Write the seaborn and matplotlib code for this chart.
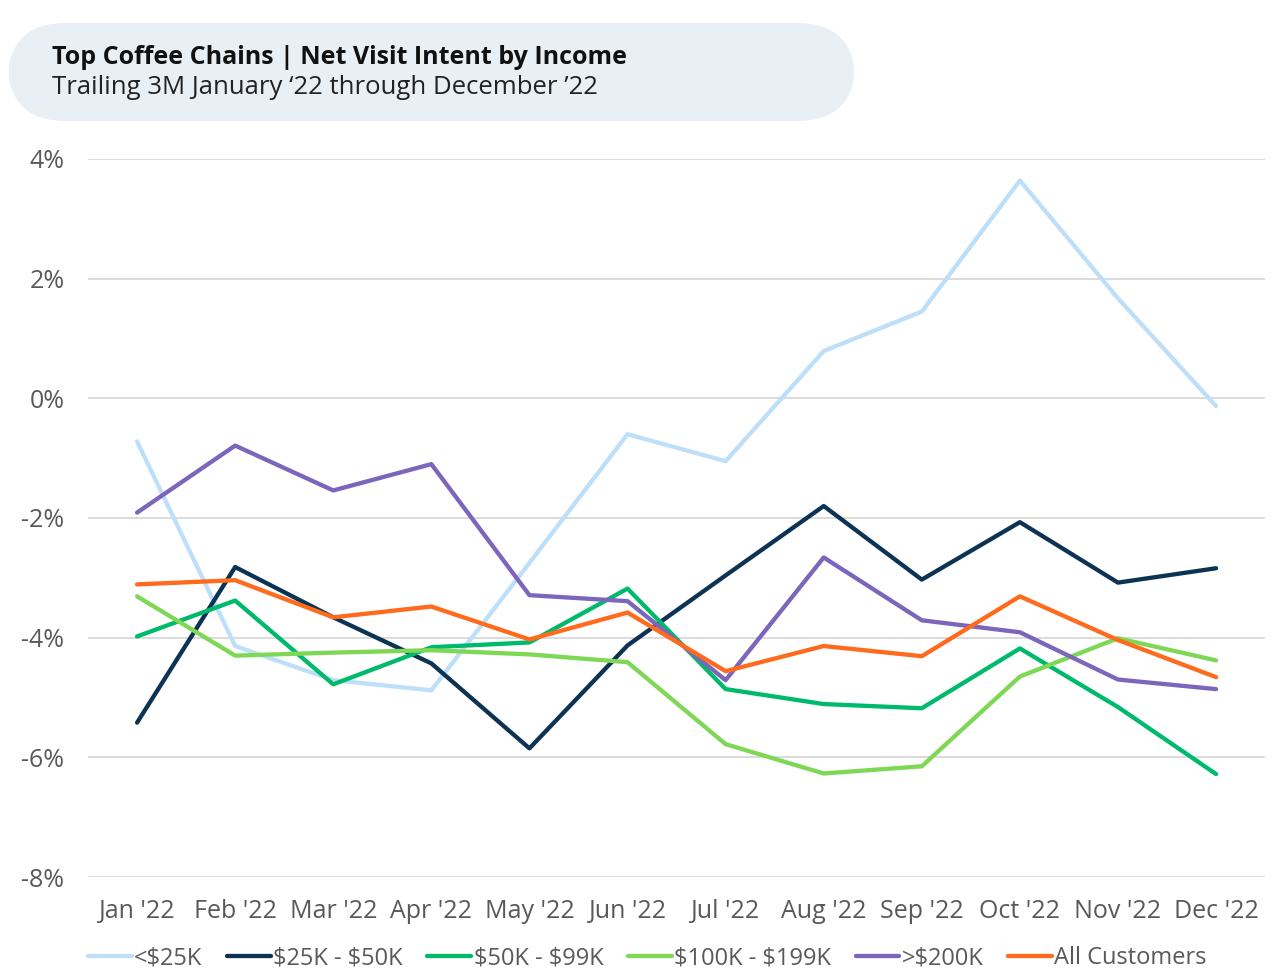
import numpy as np
import pandas as pd
import seaborn as sns
import matplotlib.pyplot as plt
from matplotlib.patches import FancyBboxPatch

# data (net visit intent, %)
months = ["Jan '22", "Feb '22", "Mar '22", "Apr '22", "May '22", "Jun '22",
          "Jul '22", "Aug '22", "Sep '22", "Oct '22", "Nov '22", "Dec '22"]

under_25k = [-0.72, -4.14, -4.71, -4.88, -2.75, -0.60, -1.05, 0.79, 1.45, 3.64, 1.67, -0.13]
k25_50 = [-5.42, -2.82, -3.66, -4.43, -5.85, -4.13, -2.96, -1.80, -3.03, -2.07, -3.08, -2.84]
k50_99 = [-3.98, -3.38, -4.78, -4.16, -4.08, -3.18, -4.86, -5.11, -5.18, -4.18, -5.16, -6.28]
k100_199 = [-3.31, -4.30, -4.25, -4.21, -4.28, -4.41, -5.78, -6.27, -6.15, -4.65, -4.01, -4.38]
over_200k = [-1.91, -0.79, -1.54, -1.10, -3.29, -3.39, -4.71, -2.66, -3.71, -3.91, -4.70, -4.86]
all_cust = [-3.11, -3.04, -3.66, -3.48, -4.03, -3.58, -4.56, -4.14, -4.31, -3.31, -4.04, -4.66]

series = {"<$25K": under_25k,
          "$25K - $50K": k25_50,
          "$50K - $99K": k50_99,
          "$100K - $199K": k100_199,
          ">$200K": over_200k,
          "All Customers": all_cust}

colors = ["#BEDFF9", "#0C3353", "#00BA6C", "#7ED856", "#7B66BC", "#FF6A1C"]

rows = []
for name, vals in series.items():
    for i, v in enumerate(vals):
        rows.append({"month": i, "value": v, "group": name})
df = pd.DataFrame(rows)

sns.set_theme(style="white")
plt.rcParams['font.family'] = ['Open Sans', 'DejaVu Sans']
plt.rcParams['text.parse_math'] = False

fig = plt.figure(figsize=(12.87, 9.8), dpi=100)
ax = fig.add_axes([0.0684, 0.1051, 0.9146, 0.7327])

sns.lineplot(data=df, x="month", y="value", hue="group",
             palette=colors, linewidth=3.1, ax=ax, legend=True)

ax.set_xlim(-0.5, 11.5)
ax.set_ylim(-8, 4)
ax.set_yticks(range(-8, 5, 2))
ax.set_yticklabels([f"{t}%" for t in range(-8, 5, 2)])
ax.set_xticks(range(12))
ax.set_xticklabels(months)
ax.set_xlabel("")
ax.set_ylabel("")
ax.grid(axis="y", color="#D9D9D9", linewidth=1.3)
ax.set_axisbelow(True)
for s in ax.spines.values():
    s.set_visible(False)
ax.tick_params(axis="both", labelsize=18, colors="#595959", length=0)
ax.tick_params(axis="y", pad=17)
ax.tick_params(axis="x", pad=16)

h, l = ax.get_legend_handles_labels()
ax.legend(h, l, loc="upper left", bbox_to_anchor=(-0.008, -0.083), ncol=6,
          frameon=False, fontsize=17, handlelength=1.85, handletextpad=0.1,
          columnspacing=1.05, labelcolor="#595959", borderaxespad=0)

# title pill
box = FancyBboxPatch((8 / 1287, 1 - 121 / 980), (855 - 8) / 1287, (121 - 23) / 980,
                     boxstyle="round,pad=0,rounding_size=0.045",
                     transform=fig.transFigure, facecolor="#E8EFF5",
                     edgecolor="none", mutation_aspect=1287 / 980)
fig.patches.append(box)
fig.text(52 / 1287, 1 - 58 / 980, "Top Coffee Chains | Net Visit Intent by Income",
         fontsize=18, fontweight="bold", color="#111111", va="center")
fig.text(52 / 1287, 1 - 87 / 980, "Trailing 3M January \u201822 through December \u201922",
         fontsize=18.5, color="#222222", va="center")

fig.savefig("out.png", dpi=100)
